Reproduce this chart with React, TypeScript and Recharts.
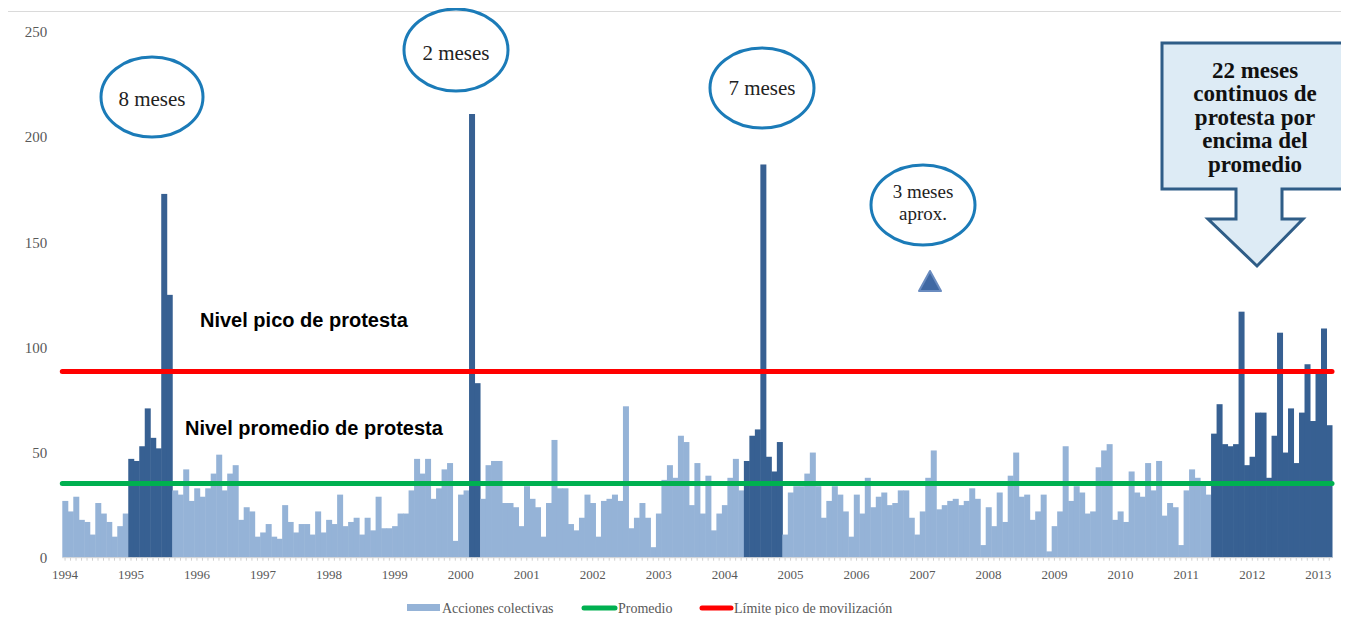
import React from 'react';
import { ComposedChart, Bar, XAxis, YAxis, ReferenceLine } from 'recharts';

// ---- Data ----
const anios = ['1994','1995','1996','1997','1998','1999','2000','2001','2002','2003','2004','2005','2006','2007','2008','2009','2010','2011','2012','2013'];

// Acciones colectivas mensuales (ene-1994 a mar-2013)
const acciones: number[] = [
  27, 22, 29, 18, 17, 11, 26, 21, 17, 10, 15, 21,      // 1994
  47, 46, 53, 71, 57, 52, 173, 125, 32, 30, 42, 27,    // 1995
  33, 29, 33, 40, 49, 32, 40, 44, 18, 24, 22, 10,      // 1996
  12, 16, 10, 9, 25, 17, 12, 16, 16, 11, 22, 12,       // 1997
  18, 16, 30, 15, 17, 19, 11, 19, 13, 29, 14, 14,      // 1998
  15, 21, 21, 32, 47, 40, 47, 28, 33, 42, 45, 8,       // 1999
  30, 32, 211, 83, 28, 44, 46, 46, 26, 26, 24, 15,     // 2000
  34, 28, 24, 10, 26, 56, 33, 33, 16, 13, 19, 30,      // 2001
  26, 10, 27, 28, 30, 27, 72, 14, 19, 26, 19, 5,       // 2002
  21, 37, 44, 38, 58, 55, 25, 45, 21, 39, 13, 21,      // 2003
  25, 38, 47, 32, 46, 58, 61, 187, 48, 41, 55, 11,     // 2004
  31, 34, 34, 40, 50, 34, 19, 27, 34, 30, 22, 10,      // 2005
  30, 21, 38, 24, 29, 31, 25, 26, 32, 32, 19, 11,      // 2006
  22, 38, 51, 23, 25, 27, 28, 25, 27, 33, 28, 6,       // 2007
  24, 15, 31, 17, 39, 50, 29, 30, 18, 22, 30, 3,       // 2008
  15, 22, 53, 27, 34, 31, 21, 22, 43, 51, 54, 18,      // 2009
  22, 17, 41, 31, 29, 45, 32, 46, 20, 26, 24, 6,       // 2010
  32, 42, 38, 36, 30, 59, 73, 54, 53, 54, 117, 44,     // 2011
  48, 69, 69, 38, 58, 107, 50, 71, 45, 69, 92, 65,     // 2012
  88, 109, 63,                                          // 2013
];

// Periodos de protesta por encima del promedio (destacados)
const periodosPico: [string, string][] = [
  ['1995-01', '1995-08'],
  ['2000-03', '2000-04'],
  ['2004-05', '2004-11'],
  ['2011-06', '2013-03'],
];

const promedio = 35.3;
const limitePico = 88.5;
const yTicks = [0, 50, 100, 150, 200, 250];

const LIGHT = '#95B3D7';
const DARK = '#376092';
const SERIF = "'Liberation Serif', 'Times New Roman', serif";
const SANS = "'Liberation Sans', Arial, sans-serif";

const meses: string[] = [];
anios.forEach((a) => {
  for (let m = 1; m <= 12; m++) meses.push(`${a}-${m < 10 ? '0' + m : m}`);
});

const datos = acciones.map((v, i) => {
  const mes = meses[i];
  const pico = periodosPico.some(([a, b]) => mes >= a && mes <= b);
  return { mes, acciones: v, pico };
});

const BarShape = (props: any) => {
  const { x, y, width, height, payload } = props;
  if (!height || height <= 0) return null;
  return (
    <rect
      x={x}
      y={y}
      width={width + 1}
      height={height}
      fill={payload && payload.pico ? DARK : LIGHT}
    />
  );
};

const Overlay = () => (
  <svg
    width={1349}
    height={623}
    style={{ position: 'absolute', left: 0, top: 0, pointerEvents: 'none' }}
  >
    {/* ellipses */}
    <g fill="none" stroke="#1B7BB8" strokeWidth={3}>
      <ellipse cx={152} cy={97} rx={51} ry={40} />
      <ellipse cx={456} cy={50} rx={52} ry={41} />
      <ellipse cx={762} cy={88} rx={52} ry={40} />
      <ellipse cx={923} cy={205} rx={52} ry={40} />
    </g>
    <g fontFamily={SERIF} fontSize={21} fill="#222" textAnchor="middle">
      <text x={152} y={106}>8 meses</text>
      <text x={456} y={60}>2 meses</text>
      <text x={762} y={95}>7 meses</text>
    </g>
    <g fontFamily={SERIF} fontSize={19} fill="#222" textAnchor="middle">
      <text x={923} y={198}>3 meses</text>
      <text x={923} y={220}>aprox.</text>
    </g>

    {/* level labels */}
    <g fontFamily={SANS} fontSize={20} fontWeight="bold" fill="#000">
      <text x={200} y={327}>Nivel pico de protesta</text>
      <text x={185} y={435}>Nivel promedio de protesta</text>
    </g>

    {/* small triangle */}
    <path
      d="M930,271 L941,291 L919,291 Z"
      fill="#3F68A3"
      stroke="#6A8CC0"
      strokeWidth={2}
      strokeLinejoin="round"
    />

    {/* callout arrow box */}
    <path
      d="M1162,43 H1348 V189 H1282 V219 H1303 L1257,266 L1208,219 H1236 V189 H1162 Z"
      fill="#DDEBF5"
      stroke="#2F5D87"
      strokeWidth={3}
      strokeLinejoin="miter"
    />
    <g fontFamily={SERIF} fontSize={23} fontWeight="bold" fill="#111" textAnchor="middle">
      <text x={1255} y={78}>22 meses</text>
      <text x={1255} y={101}>continuos de</text>
      <text x={1255} y={125}>protesta por</text>
      <text x={1255} y={148}>encima del</text>
      <text x={1255} y={172}>promedio</text>
    </g>

    {/* legend */}
    <g fontFamily={SERIF} fontSize={14} fill="#595959">
      <rect x={407} y={604} width={33} height={7} fill={LIGHT} />
      <text x={442} y={613}>Acciones colectivas</text>
      <line x1={584} y1={608} x2={615} y2={608} stroke="#00B050" strokeWidth={5} strokeLinecap="round" />
      <text x={618} y={613}>Promedio</text>
      <line x1={702} y1={608} x2={731} y2={608} stroke="#FF0000" strokeWidth={5} strokeLinecap="round" />
      <text x={734} y={613}>Límite pico de movilización</text>
    </g>
  </svg>
);

export default function App() {
  return (
    <div
      style={{
        position: 'relative',
        width: 1349,
        height: 623,
        margin: -8,
        overflow: 'hidden',
        background: '#fff',
      }}
    >
      <div
        style={{
          position: 'absolute',
          left: 3,
          top: 11,
          width: 1360,
          height: 608,
          border: '1.5px solid #DADADA',
        }}
      />
      <div style={{ position: 'absolute', left: 0, top: 0 }}>
        <ComposedChart
          width={1349}
          height={623}
          data={datos}
          margin={{ top: 32, right: 17, bottom: 35.3, left: 12.3 }}
          barCategoryGap={0}
          barGap={0}
        >
          <XAxis
            dataKey="mes"
            interval={0}
            height={30}
            tickSize={3}
            tickMargin={9}
            axisLine={{ stroke: '#D9D9D9' }}
            tickLine={{ stroke: '#D0D0D0' }}
            tickFormatter={(v: string) => (v.endsWith('-01') ? v.slice(0, 4) : '')}
            tick={{ fill: '#595959', fontSize: 13, fontFamily: SERIF }}
          />
          <YAxis
            domain={[0, 250]}
            ticks={yTicks}
            width={50}
            axisLine={false}
            tickLine={false}
            tickSize={0}
            tickMargin={15}
            tick={{ fill: '#595959', fontSize: 15, fontFamily: SERIF }}
          />
          <Bar
            dataKey="acciones"
            name="Acciones colectivas"
            fill={LIGHT}
            shape={BarShape}
            isAnimationActive={false}
          />
          <ReferenceLine
            y={promedio}
            stroke="#00B050"
            strokeWidth={5}
            strokeLinecap="round"
          />
          <ReferenceLine
            y={limitePico}
            stroke="#FF0000"
            strokeWidth={5}
            strokeLinecap="round"
          />
        </ComposedChart>
      </div>
      <Overlay />
    </div>
  );
}
